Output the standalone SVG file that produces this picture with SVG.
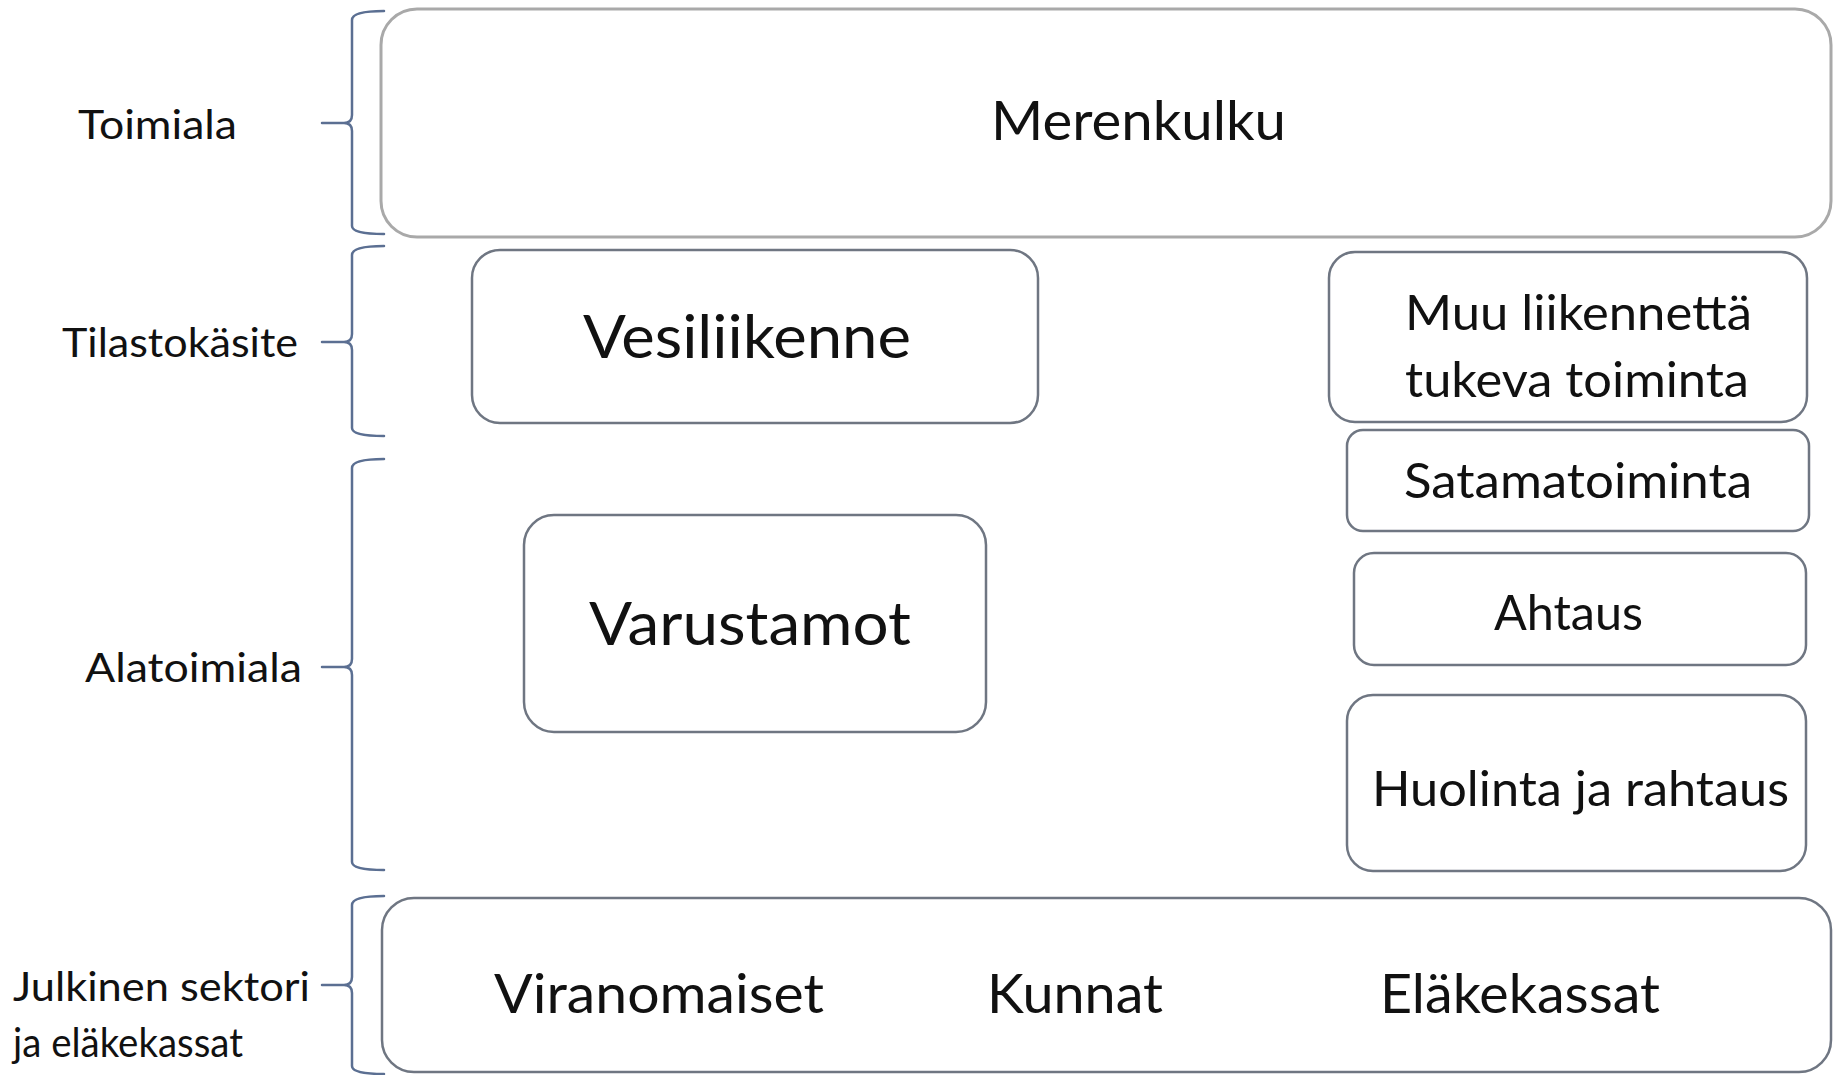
<svg xmlns="http://www.w3.org/2000/svg" width="1833" height="1075" viewBox="0 0 1833 1075">
  <style>
    .bg { fill: #ffffff; }
    .box { fill: #ffffff; stroke: #6f7682; stroke-width: 2.5; }
    .boxlight { fill: #ffffff; stroke: #a9a9a9; stroke-width: 3; }
    .brace { fill: none; stroke: #5b6f92; stroke-width: 2.5; stroke-linecap: round; stroke-linejoin: round; }
    text { font-family: Lato, "Liberation Sans", sans-serif; fill: #111111; }
    .lbl { font-size: 41px; }
    .sm { font-size: 48px; }
    .md { font-size: 54px; }
    .lg { font-size: 60px; }
  </style>
  <rect class="bg" x="0" y="0" width="1833" height="1075"/>

  <g id="braces">
    <path class="brace" d="M384 11 Q352 11 352 20 L352 115 Q352 123 344 123 L322 123 M344 123 Q352 123 352 131 L352 226 Q352 234 384 234"/>
    <path class="brace" d="M384 246 Q352 246 352 255 L352 334 Q352 342 344 342 L322 342 M344 342 Q352 342 352 350 L352 428 Q352 436 384 436"/>
    <path class="brace" d="M384 459 Q352 459 352 468 L352 659 Q352 667 344 667 L322 667 M344 667 Q352 667 352 675 L352 862 Q352 870 384 870"/>
    <path class="brace" d="M384 896 Q352 896 352 905 L352 977 Q352 985 344 985 L322 985 M344 985 Q352 985 352 993 L352 1066 Q352 1074 384 1074"/>
  </g>

  <g id="label-toimiala">
    <text class="lbl" x="78" y="139" textLength="159" lengthAdjust="spacingAndGlyphs">Toimiala</text>
  </g>
  <g id="label-tilastokasite">
    <text class="lbl" x="62" y="357" textLength="236" lengthAdjust="spacingAndGlyphs">Tilastokäsite</text>
  </g>
  <g id="label-alatoimiala">
    <text class="lbl" x="85" y="682" textLength="217" lengthAdjust="spacingAndGlyphs">Alatoimiala</text>
  </g>
  <g id="label-julkinen">
    <text class="lbl" x="13" y="1001" textLength="297" lengthAdjust="spacingAndGlyphs">Julkinen sektori</text>
    <text class="lbl" x="13" y="1057" textLength="230" lengthAdjust="spacingAndGlyphs">ja eläkekassat</text>
  </g>

  <g id="merenkulku">
    <rect class="boxlight" x="381" y="9" width="1450" height="228" rx="36" ry="36"/>
    <text class="md" x="991" y="140" textLength="295" lengthAdjust="spacingAndGlyphs">Merenkulku</text>
  </g>

  <g id="vesiliikenne">
    <rect class="box" x="472" y="250" width="566" height="173" rx="28" ry="28"/>
    <text class="lg" x="583" y="358" textLength="328" lengthAdjust="spacingAndGlyphs">Vesiliikenne</text>
  </g>

  <g id="muu-liikennetta">
    <rect class="box" x="1329" y="252" width="478" height="170" rx="26" ry="26"/>
    <text class="sm" x="1405" y="330" textLength="347" lengthAdjust="spacingAndGlyphs">Muu liikennettä</text>
    <text class="sm" x="1405" y="397" textLength="344" lengthAdjust="spacingAndGlyphs">tukeva toiminta</text>
  </g>

  <g id="satamatoiminta">
    <rect class="box" x="1347" y="430" width="462" height="101" rx="16" ry="16"/>
    <text class="sm" x="1404" y="498" textLength="348" lengthAdjust="spacingAndGlyphs">Satamatoiminta</text>
  </g>

  <g id="varustamot">
    <rect class="box" x="524" y="515" width="462" height="217" rx="30" ry="30"/>
    <text class="lg" x="589" y="645" textLength="322" lengthAdjust="spacingAndGlyphs">Varustamot</text>
  </g>

  <g id="ahtaus">
    <rect class="box" x="1354" y="553" width="452" height="112" rx="20" ry="20"/>
    <text class="sm" x="1494" y="630" textLength="149" lengthAdjust="spacingAndGlyphs">Ahtaus</text>
  </g>

  <g id="huolinta">
    <rect class="box" x="1347" y="695" width="459" height="176" rx="26" ry="26"/>
    <text class="sm" x="1372" y="806" textLength="417" lengthAdjust="spacingAndGlyphs">Huolinta ja rahtaus</text>
  </g>

  <g id="julkinen-sektori">
    <rect class="box" x="382" y="898" width="1449" height="174" rx="32" ry="32"/>
    <text class="md" x="494" y="1013" textLength="330" lengthAdjust="spacingAndGlyphs">Viranomaiset</text>
    <text class="md" x="987" y="1013" textLength="176" lengthAdjust="spacingAndGlyphs">Kunnat</text>
    <text class="md" x="1380" y="1013" textLength="280" lengthAdjust="spacingAndGlyphs">Eläkekassat</text>
  </g>
</svg>
